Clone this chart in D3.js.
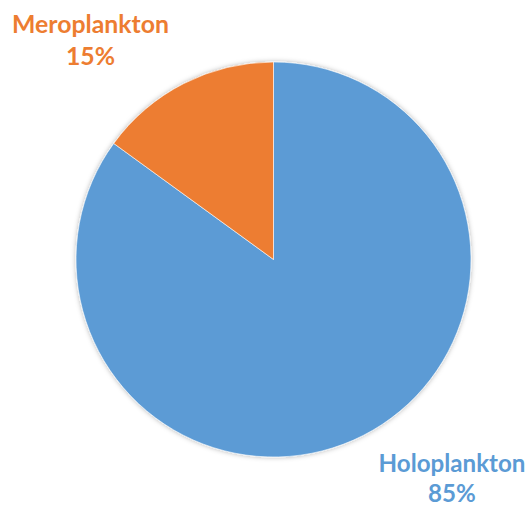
<!DOCTYPE html>
<html>
<head>
<meta charset="utf-8">
<script src="https://cdn.jsdelivr.net/npm/d3@7"></script>
<style>
  html, body { margin: 0; padding: 0; background: #ffffff; }
  svg { display: block; }
</style>
</head>
<body>
<svg id="chart" width="528" height="507"></svg>
<script>
// Plankton composition
const categories = ["Holoplankton", "Meroplankton"];
const values = [85, 15];
const percentLabels = ["85%", "15%"];
const colors = ["#5B9BD5", "#ED7D31"];

const svg = d3.select("#chart");
const cx = 273.5, cy = 259.5, radius = 197.5;

// soft shadow around the pie
const defs = svg.append("defs");
const f = defs.append("filter").attr("id", "soft").attr("x", "-10%").attr("y", "-10%")
  .attr("width", "120%").attr("height", "120%");
f.append("feDropShadow").attr("dx", 0).attr("dy", 0).attr("stdDeviation", 2.5)
  .attr("flood-color", "#000").attr("flood-opacity", 0.3);

const pie = d3.pie().value(d => d.value).sort(null);
const arc = d3.arc().innerRadius(0).outerRadius(radius);
const data = categories.map((c, i) => ({ name: c, value: values[i], label: percentLabels[i], color: colors[i] }));

const g = svg.append("g").attr("transform", `translate(${cx},${cy})`).attr("filter", "url(#soft)");
g.selectAll("path").data(pie(data)).enter().append("path")
  .attr("d", arc)
  .attr("fill", d => d.data.color)
  .attr("stroke", "#ffffff")
  .attr("stroke-width", 0.6);

// data labels: name + percentage, placed outside the pie
const labelPos = {
  "Holoplankton": { x: 452, y1: 472, y2: 502, w: 147 },
  "Meroplankton": { x: 90.5, y1: 33, y2: 65, w: 157 }
};
const font = "Lato, 'Open Sans', 'DejaVu Sans', sans-serif";
data.forEach(d => {
  const p = labelPos[d.name];
  const t = svg.append("text")
    .attr("x", p.x).attr("y", p.y1)
    .attr("text-anchor", "middle")
    .attr("font-family", font).attr("font-weight", 700)
    .attr("font-size", 26)
    .attr("fill", d.color)
    .text(d.name);
  // fit the label to its column width
  const w = t.node().getComputedTextLength();
  const fs = 26 * p.w / w;
  t.attr("font-size", fs);
  svg.append("text")
    .attr("x", p.x).attr("y", p.y2)
    .attr("text-anchor", "middle")
    .attr("font-family", font).attr("font-weight", 700)
    .attr("font-size", fs)
    .attr("fill", d.color)
    .text(d.label);
});
</script>
</body>
</html>
